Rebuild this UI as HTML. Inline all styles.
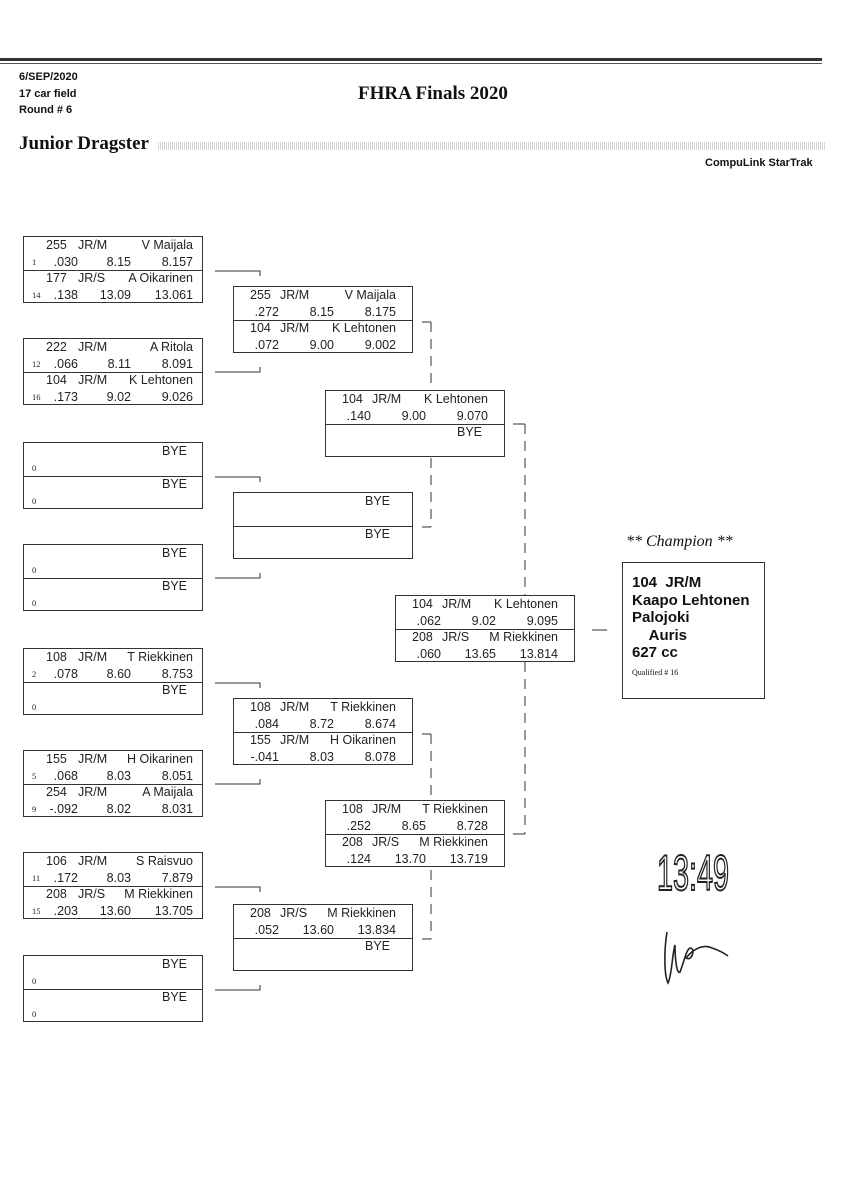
<!DOCTYPE html>
<html><head><meta charset="utf-8"><style>
html,body{margin:0;padding:0;background:#fff;}
body{width:848px;height:1200px;position:relative;overflow:hidden;font-family:"Liberation Sans",sans-serif;color:#111;}
.a{position:absolute;white-space:nowrap;}
.box{position:absolute;width:180px;height:67px;border:1px solid #333;box-sizing:border-box;background:#fff;z-index:2;font-size:12.5px;color:#222;}
.box .d{position:absolute;left:0;right:0;top:33px;border-top:1px solid #333;}
.box span{position:absolute;line-height:17px;height:17px;}
.s{font-family:"Liberation Serif",serif;font-size:8.5px;left:8px;}
svg.l{position:absolute;left:0;top:0;z-index:1;}
</style></head><body>
<div class="a" style="left:0;top:58px;width:822px;height:3px;background:#333"></div>
<div class="a" style="left:0;top:63px;width:822px;height:1px;background:#555"></div>
<div class="a" style="left:19px;top:69px;font-size:11px;font-weight:bold;line-height:16.5px">6/SEP/2020<br>17 car field<br>Round # 6</div>
<div class="a" style="left:358px;top:83px;font-family:'Liberation Serif',serif;font-weight:bold;font-size:19px">FHRA Finals 2020</div>
<div class="a" style="left:19px;top:133px;font-family:'Liberation Serif',serif;font-weight:bold;font-size:19px">Junior Dragster</div>
<div class="a" style="left:158px;top:142px;width:668px;height:8px;background:repeating-linear-gradient(90deg,#bbb 0 1px,#fff 1px 2px),#ccc;opacity:.6"></div>
<div class="a" style="left:705px;top:157px;font-size:11px;font-weight:bold">CompuLink StarTrak</div>

<svg class="l" width="848" height="1200">
<g stroke="#333" stroke-width="1" fill="none">
<path d="M215 271H260V276M215 372H260V367"/>
<path d="M215 477H260V482M215 578H260V573"/>
<path d="M215 683H260V688M215 784H260V779"/>
<path d="M215 887H260V892M215 990H260V985"/>
<path d="M422 322H431M422 527H431M422 734H431M422 939H431M513 424H525M513 834H525"/>
<path d="M431 322V527M431 734V939M525 424V834" stroke-dasharray="10 7"/>
<path d="M592 630H607"/>
</g>
<text x="657" y="890" font-family="Liberation Sans,sans-serif" font-size="50" textLength="72" lengthAdjust="spacingAndGlyphs" fill="#fff" stroke="#222" stroke-width="2">13:49</text>
<path d="M667 932C664 950 664 975 668 983C672 975 672 955 675 945C675 960 677 975 680 972C684 962 686 950 690 948C696 948 692 962 686 958C694 948 704 944 712 948C718 950 724 953 728 956" fill="none" stroke="#222" stroke-width="1.6"/>
</svg>

<!-- Round 1 -->
<div class="box" style="left:23px;top:236px"><span style="left:22px;top:0">255</span><span style="left:54px;top:0">JR/M</span><span style="right:9px;top:0">V Maijala</span><span class="s" style="top:17px">1</span><span style="right:124px;top:17px">.030</span><span style="right:71px;top:17px">8.15</span><span style="right:9px;top:17px">8.157</span><div class="d"></div><span style="left:22px;top:33px">177</span><span style="left:54px;top:33px">JR/S</span><span style="right:9px;top:33px">A Oikarinen</span><span class="s" style="top:50px">14</span><span style="right:124px;top:50px">.138</span><span style="right:71px;top:50px">13.09</span><span style="right:9px;top:50px">13.061</span></div>
<div class="box" style="left:23px;top:338px"><span style="left:22px;top:0">222</span><span style="left:54px;top:0">JR/M</span><span style="right:9px;top:0">A Ritola</span><span class="s" style="top:17px">12</span><span style="right:124px;top:17px">.066</span><span style="right:71px;top:17px">8.11</span><span style="right:9px;top:17px">8.091</span><div class="d"></div><span style="left:22px;top:33px">104</span><span style="left:54px;top:33px">JR/M</span><span style="right:9px;top:33px">K Lehtonen</span><span class="s" style="top:50px">16</span><span style="right:124px;top:50px">.173</span><span style="right:71px;top:50px">9.02</span><span style="right:9px;top:50px">9.026</span></div>
<div class="box" style="left:23px;top:442px"><span style="right:15px;top:0">BYE</span><span class="s" style="top:17px">0</span><div class="d"></div><span style="right:15px;top:33px">BYE</span><span class="s" style="top:50px">0</span></div>
<div class="box" style="left:23px;top:544px"><span style="right:15px;top:0">BYE</span><span class="s" style="top:17px">0</span><div class="d"></div><span style="right:15px;top:33px">BYE</span><span class="s" style="top:50px">0</span></div>
<div class="box" style="left:23px;top:648px"><span style="left:22px;top:0">108</span><span style="left:54px;top:0">JR/M</span><span style="right:9px;top:0">T Riekkinen</span><span class="s" style="top:17px">2</span><span style="right:124px;top:17px">.078</span><span style="right:71px;top:17px">8.60</span><span style="right:9px;top:17px">8.753</span><div class="d"></div><span style="right:15px;top:33px">BYE</span><span class="s" style="top:50px">0</span></div>
<div class="box" style="left:23px;top:750px"><span style="left:22px;top:0">155</span><span style="left:54px;top:0">JR/M</span><span style="right:9px;top:0">H Oikarinen</span><span class="s" style="top:17px">5</span><span style="right:124px;top:17px">.068</span><span style="right:71px;top:17px">8.03</span><span style="right:9px;top:17px">8.051</span><div class="d"></div><span style="left:22px;top:33px">254</span><span style="left:54px;top:33px">JR/M</span><span style="right:9px;top:33px">A Maijala</span><span class="s" style="top:50px">9</span><span style="right:124px;top:50px">-.092</span><span style="right:71px;top:50px">8.02</span><span style="right:9px;top:50px">8.031</span></div>
<div class="box" style="left:23px;top:852px"><span style="left:22px;top:0">106</span><span style="left:54px;top:0">JR/M</span><span style="right:9px;top:0">S Raisvuo</span><span class="s" style="top:17px">11</span><span style="right:124px;top:17px">.172</span><span style="right:71px;top:17px">8.03</span><span style="right:9px;top:17px">7.879</span><div class="d"></div><span style="left:22px;top:33px">208</span><span style="left:54px;top:33px">JR/S</span><span style="right:9px;top:33px">M Riekkinen</span><span class="s" style="top:50px">15</span><span style="right:124px;top:50px">.203</span><span style="right:71px;top:50px">13.60</span><span style="right:9px;top:50px">13.705</span></div>
<div class="box" style="left:23px;top:955px"><span style="right:15px;top:0">BYE</span><span class="s" style="top:17px">0</span><div class="d"></div><span style="right:15px;top:33px">BYE</span><span class="s" style="top:50px">0</span></div>

<!-- Round 2 -->
<div class="box" style="left:233px;top:286px"><span style="left:16px;top:0">255</span><span style="left:46px;top:0">JR/M</span><span style="right:16px;top:0">V Maijala</span><span style="right:133px;top:17px">.272</span><span style="right:78px;top:17px">8.15</span><span style="right:16px;top:17px">8.175</span><div class="d"></div><span style="left:16px;top:33px">104</span><span style="left:46px;top:33px">JR/M</span><span style="right:16px;top:33px">K Lehtonen</span><span style="right:133px;top:50px">.072</span><span style="right:78px;top:50px">9.00</span><span style="right:16px;top:50px">9.002</span></div>
<div class="box" style="left:233px;top:492px"><span style="right:22px;top:0">BYE</span><div class="d"></div><span style="right:22px;top:33px">BYE</span></div>
<div class="box" style="left:233px;top:698px"><span style="left:16px;top:0">108</span><span style="left:46px;top:0">JR/M</span><span style="right:16px;top:0">T Riekkinen</span><span style="right:133px;top:17px">.084</span><span style="right:78px;top:17px">8.72</span><span style="right:16px;top:17px">8.674</span><div class="d"></div><span style="left:16px;top:33px">155</span><span style="left:46px;top:33px">JR/M</span><span style="right:16px;top:33px">H Oikarinen</span><span style="right:133px;top:50px">-.041</span><span style="right:78px;top:50px">8.03</span><span style="right:16px;top:50px">8.078</span></div>
<div class="box" style="left:233px;top:904px"><span style="left:16px;top:0">208</span><span style="left:46px;top:0">JR/S</span><span style="right:16px;top:0">M Riekkinen</span><span style="right:133px;top:17px">.052</span><span style="right:78px;top:17px">13.60</span><span style="right:16px;top:17px">13.834</span><div class="d"></div><span style="right:22px;top:33px">BYE</span></div>

<!-- Round 3 -->
<div class="box" style="left:325px;top:390px"><span style="left:16px;top:0">104</span><span style="left:46px;top:0">JR/M</span><span style="right:16px;top:0">K Lehtonen</span><span style="right:133px;top:17px">.140</span><span style="right:78px;top:17px">9.00</span><span style="right:16px;top:17px">9.070</span><div class="d"></div><span style="right:22px;top:33px">BYE</span></div>
<div class="box" style="left:325px;top:800px"><span style="left:16px;top:0">108</span><span style="left:46px;top:0">JR/M</span><span style="right:16px;top:0">T Riekkinen</span><span style="right:133px;top:17px">.252</span><span style="right:78px;top:17px">8.65</span><span style="right:16px;top:17px">8.728</span><div class="d"></div><span style="left:16px;top:33px">208</span><span style="left:46px;top:33px">JR/S</span><span style="right:16px;top:33px">M Riekkinen</span><span style="right:133px;top:50px">.124</span><span style="right:78px;top:50px">13.70</span><span style="right:16px;top:50px">13.719</span></div>

<!-- Final -->
<div class="box" style="left:395px;top:595px"><span style="left:16px;top:0">104</span><span style="left:46px;top:0">JR/M</span><span style="right:16px;top:0">K Lehtonen</span><span style="right:133px;top:17px">.062</span><span style="right:78px;top:17px">9.02</span><span style="right:16px;top:17px">9.095</span><div class="d"></div><span style="left:16px;top:33px">208</span><span style="left:46px;top:33px">JR/S</span><span style="right:16px;top:33px">M Riekkinen</span><span style="right:133px;top:50px">.060</span><span style="right:78px;top:50px">13.65</span><span style="right:16px;top:50px">13.814</span></div>

<!-- Champion -->
<div class="a" style="left:626px;top:533px;font-family:'Liberation Serif',serif;font-style:italic;font-size:16px">** Champion **</div>
<div class="a" style="left:622px;top:562px;width:143px;height:137px;border:1px solid #333;box-sizing:border-box"></div>
<div class="a" style="left:632px;top:574px;font-size:15px;font-weight:bold;line-height:17.5px">104&nbsp;&nbsp;JR/M<br>Kaapo Lehtonen<br>Palojoki<br>&nbsp;&nbsp;&nbsp;&nbsp;Auris<br>627 cc</div>
<div class="a" style="left:632px;top:668px;font-family:'Liberation Serif',serif;font-size:8px">Qualified # 16</div>
</body></html>
